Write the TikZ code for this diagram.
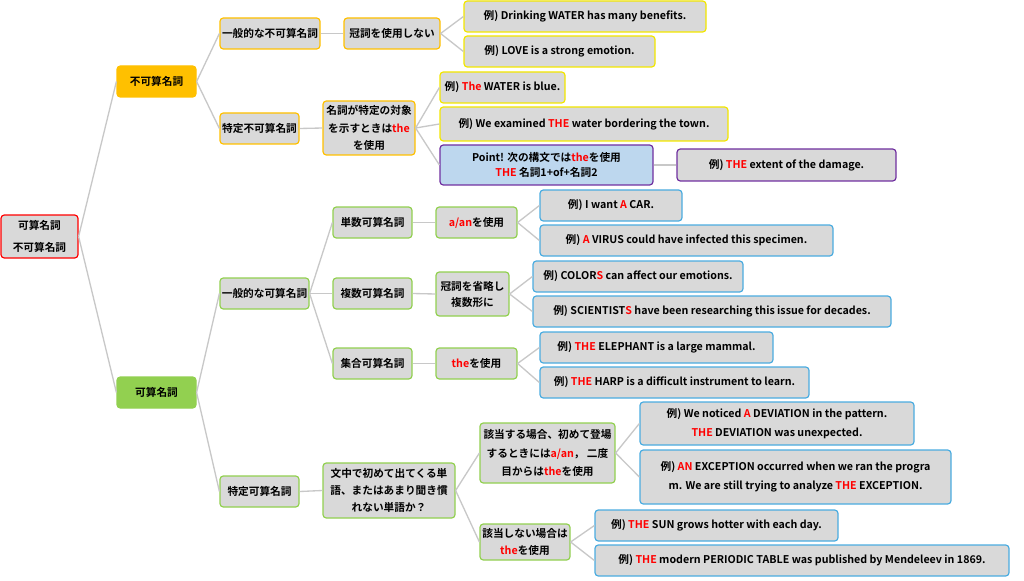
\documentclass[tikz,border=0pt]{standalone}
\usepackage{fontspec}
\setmainfont{Noto Sans CJK JP}[BoldFont={Noto Sans CJK JP Bold}]
\usepackage{tikz}
\newcommand{\R}[1]{\textcolor{red}{#1}}
\definecolor{boxgray}{HTML}{D9D9D9}
\definecolor{linegray}{HTML}{C8C8C8}
\definecolor{myorange}{HTML}{FFC000}
\definecolor{mygreen}{HTML}{92D050}
\definecolor{myblue}{HTML}{4BACE0}
\definecolor{myyellow}{HTML}{F2E600}
\definecolor{mypurple}{HTML}{7030A0}
\definecolor{lightblue}{HTML}{BDD7EE}

\begin{document}
\begin{tikzpicture}[
      x=0.75pt,y=-0.75pt,
      mybox/.style={
         rectangle,
         rounded corners=2.5pt,
         draw,
         line width=0.9pt,
         fill=boxgray,
         inner sep=1pt,
         align=center,
         font=\fontsize{8}{13}\selectfont\bfseries},
      sz/.style 2 args={minimum width=#1*0.75pt, minimum height=#2*0.75pt},
      orbox/.style={mybox,draw=myorange},
      grbox/.style={mybox,draw=mygreen},
      blbox/.style={mybox,draw=myblue},
      yebox/.style={mybox,draw=myyellow},
      myline/.style={draw=linegray,line width=1pt}
      ]
      \useasboundingbox (0,0) rectangle (1024,581);
      \node[mybox,draw=red,sz={77}{43},font=\fontsize{8}{17}\selectfont\bfseries] (root) at (39.5,236.5) {可算名詞\\不可算名詞};
      \node[mybox,draw=myorange,fill=myorange,sz={79}{31}] (nc) at (156.5,81.5) {不可算名詞};
      \node[mybox,draw=mygreen,fill=mygreen,sz={79}{31}] (c) at (156.5,392.5) {可算名詞};
      % uncountable
      \node[orbox,sz={100}{31}] (nc1) at (270,33.5) {一般的な不可算名詞};
      \node[orbox,sz={79}{31}] (nc2) at (259.5,128.5) {特定不可算名詞};
      \node[orbox,sz={96}{31}] (nc1a) at (392,33.5) {冠詞を使用しない};
      \node[orbox,sz={92}{54}] (nc2a) at (369,128) {名詞が特定の対象\\を示すときは\R{the}\\を使用};
      \node[yebox,sz={242}{31}] (ex1) at (585,16.5) {例) Drinking WATER has many benefits.};
      \node[yebox,sz={191}{31}] (ex2) at (559.5,51.5) {例) LOVE is a strong emotion.};
      \node[yebox,sz={125}{31}] (ex3) at (502.5,87.5) {例) \R{The} WATER is blue.};
      \node[yebox,sz={288}{34}] (ex4) at (584,124) {例) We examined \R{THE} water bordering the town.};
      \node[mybox,draw=mypurple,fill=lightblue,sz={213}{40},font=\fontsize{8}{11}\selectfont\bfseries] (pt) at (546.5,165) {Point! 次の構文では\R{the}を使用\\\R{THE} 名詞1+of+名詞2};
      \node[mybox,draw=mypurple,sz={219}{32}] (ex5) at (786.5,165) {例) \R{THE} extent of the damage.};
      % countable
      \node[grbox,sz={89}{31}] (c1) at (264.5,293.5) {一般的な可算名詞};
      \node[grbox,sz={79}{31}] (c2) at (259.5,491.5) {特定可算名詞};
      \node[grbox,sz={79}{31}] (c1a) at (372.5,222.5) {単数可算名詞};
      \node[grbox,sz={79}{31}] (c1b) at (372.5,293.5) {複数可算名詞};
      \node[grbox,sz={79}{31}] (c1c) at (372.5,363.5) {集合可算名詞};
      \node[grbox,sz={81}{31}] (c1a1) at (476.5,222.5) {\R{a/an}を使用};
      \node[grbox,sz={73}{44},font=\fontsize{8}{12}\selectfont\bfseries] (c1b1) at (472.5,294) {冠詞を省略し\\複数形に};
      \node[grbox,sz={81}{31}] (c1c1) at (476.5,363.5) {\R{the}を使用};
      \node[blbox,sz={142}{31}] (ex6) at (611,205.5) {例) I want \R{A} CAR.};
      \node[blbox,sz={293}{31}] (ex7) at (686.5,240.5) {例) \R{A} VIRUS could have infected this specimen.};
      \node[blbox,sz={210}{31}] (ex8) at (638,276.5) {例) COLOR\R{S} can affect our emotions.};
      \node[blbox,sz={358}{31}] (ex9) at (712,311.5) {例) SCIENTIST\R{S} have been researching this issue for decades.};
      \node[blbox,sz={233}{31}] (ex10) at (656.5,347.5) {例) \R{THE} ELEPHANT is a large mammal.};
      \node[blbox,sz={269}{31}] (ex11) at (674.5,382.5) {例) \R{THE} HARP is a difficult instrument to learn.};
      \node[grbox,sz={132}{55},font=\fontsize{8}{12.5}\selectfont\bfseries] (c2a) at (389,490.5) {文中で初めて出てくる単\\語、またはあまり聞き慣\\れない単語か？};
      \node[grbox,sz={135}{60},font=\fontsize{8}{14}\selectfont\bfseries] (c2a1) at (547.5,453) {該当する場合、初めて登場\\するときには\R{a/an}，\ 二度\\目からは\R{the}を使用};
      \node[grbox,sz={90}{36},font=\fontsize{8}{13}\selectfont\bfseries] (c2a2) at (525,542) {該当しない場合は\\\R{the}を使用};
      \node[blbox,sz={274}{43},font=\fontsize{8}{14}\selectfont\bfseries] (ex12) at (777,423.5) {例) We noticed \R{A} DEVIATION in the pattern.\\\R{THE} DEVIATION was unexpected.};
      \node[blbox,sz={311}{54},font=\fontsize{8}{14}\selectfont\bfseries] (ex13) at (795.5,477) {例) \R{AN} EXCEPTION occurred when we ran the progra\\m. We are still trying to analyze \R{THE} EXCEPTION.};
      \node[blbox,sz={243}{31}] (ex14) at (716.5,525.5) {例) \R{THE} SUN grows hotter with each day.};
      \node[blbox,sz={414}{31}] (ex15) at (802,560.5) {例) \R{THE} modern PERIODIC TABLE was published by Mendeleev in 1869.};
    \foreach \i/\j in {root/nc, root/c, nc/nc1, nc/nc2, nc1/nc1a, nc2/nc2a,
      nc1a/ex1, nc1a/ex2, nc2a/ex3, nc2a/ex4, nc2a/pt, pt/ex5,
      c/c1, c/c2, c1/c1a, c1/c1b, c1/c1c, c1a/c1a1, c1b/c1b1, c1c/c1c1,
      c1a1/ex6, c1a1/ex7, c1b1/ex8, c1b1/ex9, c1c1/ex10, c1c1/ex11,
      c2/c2a, c2a/c2a1, c2a/c2a2, c2a1/ex12, c2a1/ex13, c2a2/ex14, c2a2/ex15}
       \draw [myline] (\i.east) -- (\j.west);
\end{tikzpicture}
\end{document}
